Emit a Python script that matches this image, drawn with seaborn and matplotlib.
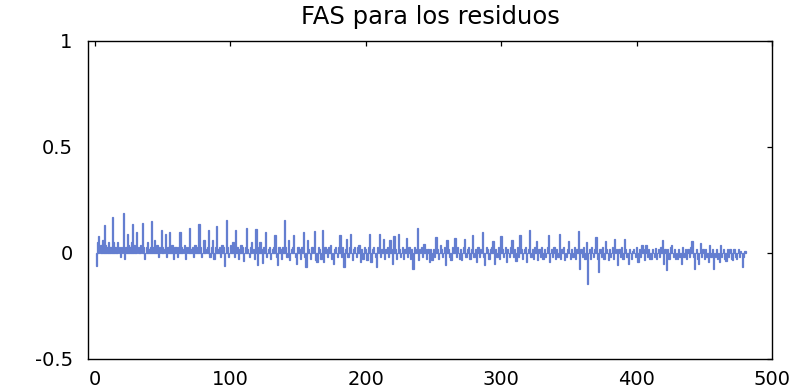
import matplotlib
matplotlib.use("Agg")
import matplotlib.pyplot as plt
import numpy as np
import pandas as pd
import seaborn as sns

# Sample autocorrelation of the model residuals, lags 1..480
lags = list(range(1, 481))
acf_values = [
    # 1-20
    -0.06, 0.05, 0.08, 0.04, 0.04, 0.06, 0.13, 0.04, 0.03, 0.05,
    0.03, 0.03, 0.17, 0.05, 0.03, 0.02, 0.05, 0.03, -0.02, 0.03,
    # 21-40
    0.19, -0.03, 0.03, 0.09, 0.04, 0.03, 0.05, 0.135, 0.04, 0.03,
    0.10, 0.03, 0.02, 0.04, 0.14, 0.03, -0.03, 0.03, 0.05, 0.02,
    # 41-60
    0.03, 0.15, 0.03, 0.06, 0.02, 0.04, -0.02, 0.03, 0.11, 0.03,
    0.02, 0.09, -0.02, 0.03, 0.10, 0.03, 0.04, -0.03, 0.03, 0.03,
    # 61-80
    -0.02, 0.03, 0.10, 0.03, 0.02, 0.04, -0.03, 0.03, 0.03, 0.12,
    0.02, 0.03, -0.02, 0.04, 0.03, 0.02, 0.135, 0.03, -0.02, 0.06,
    # 81-100
    0.063, 0.02, 0.03, 0.11, -0.02, 0.03, 0.06, -0.03, 0.03, 0.126,
    0.02, 0.03, -0.02, 0.04, 0.03, -0.063, 0.154, 0.03, -0.02, 0.04,
    # 101-120
    0.03, 0.05, -0.02, 0.11, 0.03, -0.03, 0.02, 0.037, 0.03, -0.038,
    0.03, 0.12, 0.02, -0.02, 0.03, 0.05, 0.02, -0.03, 0.115, -0.055,
    # 121-140
    0.03, 0.05, 0.02, -0.047, 0.03, 0.10, -0.02, 0.02, 0.028, -0.03,
    0.02, 0.03, 0.083, -0.02, -0.058, 0.03, 0.02, -0.03, 0.03, 0.154,
    # 141-160
    0.03, -0.02, 0.06, -0.035, 0.02, 0.03, 0.087, -0.02, -0.05, 0.03,
    0.02, -0.03, 0.03, 0.097, -0.02, -0.066, 0.06, 0.02, -0.03, 0.03,
    # 161-180
    0.03, 0.105, -0.035, -0.043, 0.028, 0.02, -0.03, 0.107, -0.043, 0.03,
    0.02, -0.02, 0.03, 0.036, -0.03, -0.05, 0.02, 0.03, -0.02, 0.03,
    # 181-200
    0.083, -0.02, 0.03, -0.066, 0.02, 0.067, -0.02, 0.03, 0.09, -0.035,
    0.02, 0.03, -0.02, 0.03, 0.036, -0.043, 0.02, -0.03, 0.03, 0.02,
    # 201-220
    -0.035, 0.03, 0.09, -0.043, 0.02, 0.03, -0.02, -0.066, 0.03, 0.09,
    -0.02, 0.02, 0.067, -0.03, 0.02, 0.03, -0.02, 0.06, 0.02, -0.05,
    # 221-240
    0.078, 0.02, -0.03, 0.09, 0.02, -0.02, 0.03, -0.03, 0.02, 0.072,
    -0.02, 0.03, -0.03, 0.02, -0.074, 0.03, 0.02, 0.12, -0.035, 0.02,
    # 241-260
    0.03, -0.02, 0.044, 0.02, -0.03, 0.02, -0.043, 0.02, -0.035, 0.02,
    -0.02, 0.075, 0.02, -0.03, 0.036, 0.02, -0.02, 0.03, -0.058, 0.06,
    # 261-280
    0.02, -0.02, -0.035, 0.03, 0.02, 0.072, -0.02, 0.03, -0.03, 0.02,
    -0.035, 0.03, 0.067, -0.02, 0.02, 0.03, -0.03, 0.02, 0.083, -0.02,
    # 281-300
    0.02, -0.043, 0.03, -0.02, 0.02, 0.10, -0.02, -0.058, 0.03, 0.02,
    -0.03, 0.02, 0.03, 0.057, -0.05, 0.02, -0.02, 0.03, -0.03, 0.078,
    # 301-320
    0.02, -0.02, 0.03, -0.043, 0.02, -0.02, 0.03, 0.06, -0.02, 0.02,
    -0.038, 0.03, -0.02, 0.083, 0.02, -0.03, 0.02, 0.03, -0.043, 0.02,
    # 321-340
    0.11, -0.02, 0.02, -0.03, 0.03, 0.057, -0.035, 0.02, -0.02, 0.03,
    -0.03, 0.02, -0.02, 0.03, 0.083, -0.043, 0.02, -0.02, 0.03, -0.03,
    # 341-360
    0.02, -0.02, 0.09, -0.03, 0.02, 0.03, -0.035, -0.02, 0.02, 0.057,
    -0.03, 0.02, -0.02, 0.03, -0.03, 0.02, 0.104, -0.074, 0.02, -0.02,
    # 361-380
    0.03, -0.03, 0.05, -0.145, 0.02, -0.03, 0.03, -0.02, 0.02, 0.075,
    -0.03, -0.09, 0.02, -0.02, 0.03, -0.03, 0.057, 0.02, -0.035, 0.02,
    # 381-400
    -0.02, 0.03, -0.03, 0.067, 0.02, -0.058, 0.02, -0.02, 0.03, -0.03,
    0.067, 0.02, -0.02, -0.05, 0.02, -0.03, 0.01, 0.02, -0.02, 0.03,
    # 401-420
    -0.043, 0.02, -0.02, 0.04, 0.02, -0.035, 0.036, -0.02, 0.02, -0.03,
    -0.03, 0.02, -0.02, 0.025, -0.03, 0.02, -0.02, 0.03, 0.063, -0.05,
    # 421-440
    0.02, -0.079, 0.02, -0.03, 0.03, 0.04, -0.02, 0.02, -0.03, -0.03,
    0.02, -0.02, -0.05, 0.03, -0.02, 0.02, -0.03, 0.02, -0.02, 0.03,
    # 441-460
    0.057, -0.02, -0.074, 0.02, -0.03, -0.05, 0.047, -0.02, 0.02, -0.03,
    0.02, -0.02, -0.043, 0.04, -0.02, 0.02, -0.074, -0.02, 0.02, -0.03,
    # 461-480
    -0.043, 0.036, -0.02, 0.02, -0.03, -0.038, 0.02, -0.02, 0.02, -0.03,
    -0.035, 0.02, -0.02, -0.03, 0.02, -0.02, 0.01, -0.066, -0.02, 0.01,
]

x_ticks = [0, 100, 200, 300, 400, 500]
y_ticks = [-0.5, 0, 0.5, 1]
y_tick_labels = ["-0.5", "0", "0.5", "1"]
title_text = "FAS para los residuos"

sns.set_style("white")
plt.rcParams["font.family"] = ["DejaVu Sans"]

df = pd.DataFrame({"lag": lags, "acf": acf_values})

fig = plt.figure(figsize=(8.02, 3.90), dpi=100)
ax = fig.add_axes([88 / 802, 1 - 359 / 390, (772 - 88) / 802, (359 - 41) / 390])

bar_color = "#647ed0"
sns.barplot(data=df, x="lag", y="acf", native_scale=True, width=0.9,
            color=bar_color, saturation=1, errorbar=None,
            linewidth=0.9, edgecolor=bar_color, ax=ax)

ax.set_xlim(-5, 500)
ax.set_ylim(-0.5, 1)
ax.set_xticks(x_ticks)
ax.set_xticklabels([str(t) for t in x_ticks])
ax.set_yticks(y_ticks)
ax.set_yticklabels(y_tick_labels)
ax.set_xlabel("")
ax.set_ylabel("")

for side in ["left", "right", "top", "bottom"]:
    ax.spines[side].set_visible(True)
    ax.spines[side].set_color("black")
    ax.spines[side].set_linewidth(1.0)

ax.tick_params(axis="both", which="major", direction="in", length=3.5,
               width=0.9, color="black", top=True, right=True,
               labelsize=14, labelcolor="black")
ax.tick_params(axis="y", pad=11)
ax.tick_params(axis="x", pad=8)

ax.set_title(title_text, fontsize=17.5, color="black", pad=12)

fig.savefig("out.png", dpi=100, facecolor="white")
